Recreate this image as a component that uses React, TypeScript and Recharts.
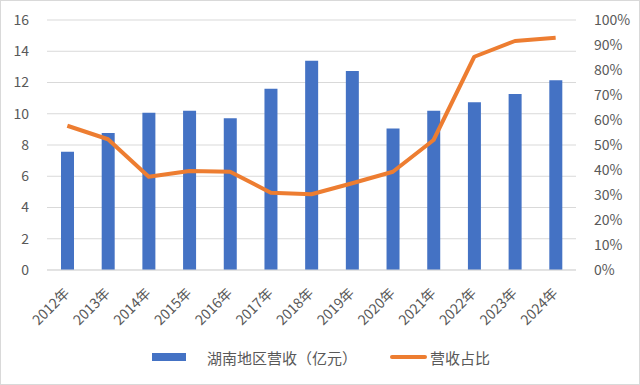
import React from "react";
import {
  ComposedChart,
  Bar,
  Line,
  XAxis,
  YAxis,
  CartesianGrid,
  Legend,
} from "recharts";

const years = [
  "2012年", "2013年", "2014年", "2015年", "2016年", "2017年", "2018年",
  "2019年", "2020年", "2021年", "2022年", "2023年", "2024年",
];
const revenue = [7.57, 8.77, 10.07, 10.2, 9.71, 11.6, 13.4, 12.74, 9.05, 10.2, 10.73, 11.26, 12.14];
const share = [0.577, 0.523, 0.373, 0.396, 0.393, 0.309, 0.303, 0.347, 0.393, 0.52, 0.853, 0.916, 0.929];
const leftTicks = [0, 2, 4, 6, 8, 10, 12, 14, 16];
const rightTicks = [0, 0.1, 0.2, 0.3, 0.4, 0.5, 0.6, 0.7, 0.8, 0.9, 1];

const data = years.map((year, i) => ({ year, revenue: revenue[i], share: share[i] }));

const FONT = '"Noto Sans CJK SC", "Noto Sans", sans-serif';
const TEXT = "#595959";

function LegendBox() {
  return (
    <div
      style={{
        display: "flex",
        alignItems: "center",
        height: 30,
        paddingLeft: 143,
        fontFamily: FONT,
        fontSize: 15,
        color: TEXT,
        whiteSpace: "nowrap",
      }}
    >
      <span style={{ display: "inline-block", width: 34, height: 8, background: "#4472C4", marginRight: 21 }} />
      <span style={{ marginRight: 33 }}>湖南地区营收（亿元）</span>
      <span style={{ display: "inline-block", width: 37, height: 4, background: "#ED7D31", borderRadius: 2, marginRight: 3 }} />
      <span>营收占比</span>
    </div>
  );
}

function XTick({ x, y, payload }: any) {
  const ax = x + 3;
  const ay = y + 16;
  return (
    <text
      x={ax}
      y={ay}
      transform={`rotate(-45 ${ax} ${ay})`}
      textAnchor="end"
      fill={TEXT}
      fontSize={14}
      fontFamily={FONT}
    >
      {payload.value}
    </text>
  );
}

export default function App() {
  return (
    <div
      style={{
        position: "absolute",
        left: 0,
        top: 0,
        width: 640,
        height: 385,
        boxSizing: "border-box",
        border: "1px solid #d9d9d9",
        background: "#fff",
      }}
    >
      <ComposedChart
        width={638}
        height={383}
        data={data}
        margin={{ top: 19, right: 8, bottom: 12, left: 8 }}
        barCategoryGap={0}
      >
        <CartesianGrid stroke="#d9d9d9" vertical={false} yAxisId="left" />
        <XAxis
          dataKey="year"
          tick={<XTick />}
          tickLine={false}
          axisLine={{ stroke: "#d9d9d9" }}
          height={72}
          interval={0}
        />
        <YAxis
          yAxisId="left"
          domain={[0, 16]}
          ticks={leftTicks}
          width={38}
          tickLine={false}
          axisLine={false}
          tickMargin={12}
          tick={{ fill: TEXT, fontSize: 14, fontFamily: FONT }}
        />
        <YAxis
          yAxisId="right"
          orientation="right"
          domain={[0, 1]}
          ticks={rightTicks}
          width={55}
          tickLine={false}
          axisLine={false}
          tickMargin={12}
          tickFormatter={(v: number) => `${Math.round(v * 100)}%`}
          tick={{ fill: TEXT, fontSize: 14, fontFamily: FONT, textAnchor: "start" }}
        />
        <Legend verticalAlign="bottom" height={30} content={() => <LegendBox />} />
        <Bar yAxisId="left" dataKey="revenue" fill="#4472C4" barSize={13} isAnimationActive={false} />
        <Line
          yAxisId="right"
          dataKey="share"
          type="linear"
          stroke="#ED7D31"
          strokeWidth={4}
          dot={false}
          strokeLinejoin="round"
          isAnimationActive={false}
        />
      </ComposedChart>
    </div>
  );
}
